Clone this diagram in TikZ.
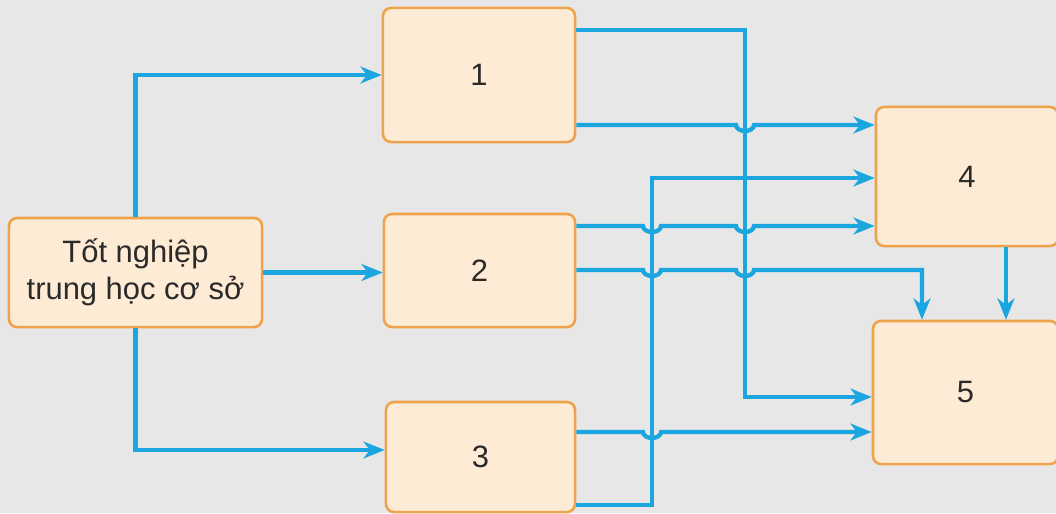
\documentclass[tikz,border=0pt]{standalone}
\usepackage{fontspec}
\setmainfont{Liberation Sans}
\usetikzlibrary{arrows.meta}

\definecolor{bgc}{HTML}{E7E7E7}
\definecolor{boxfill}{HTML}{FDEBD5}
\definecolor{boxline}{HTML}{EFA24C}
\definecolor{flowc}{HTML}{1BA6E0}
\definecolor{txtc}{HTML}{2B2A29}

\tikzset{
	box/.style={draw=boxline, fill=boxfill, line width=1.8pt, rounded corners=0.2cm,
		text=txtc, font=\fontsize{22}{26.5}\selectfont, align=center},
	flow/.style={draw=flowc, line width=3.1pt,
		-{Stealth[length=5.3mm,width=4.2mm,inset=1.6mm]}},
}

\begin{document}
\begin{tikzpicture}[x=0.025cm, y=-0.025cm]
		\fill [bgc] (0,0) rectangle (1056,513);
		\useasboundingbox (0,0) rectangle (1056,513);
		\node[box, minimum width=6.325cm, minimum height=2.725cm] (start) at (135.5,272.5) {Tốt nghiệp\\trung học cơ sở};
		\node[box, minimum width=4.8cm, minimum height=3.35cm] (n1) at (479,75) {1};
		\node[box, minimum width=4.775cm, minimum height=2.825cm] (n2) at (479.5,270.5) {2};
		\node[box, minimum width=4.725cm, minimum height=2.75cm] (n3) at (480.5,457) {3};
		\node[box, minimum width=4.55cm, minimum height=3.475cm] (n4) at (967,176.5) {4};
		\node[box, minimum width=4.625cm, minimum height=3.575cm] (n5) at (965.5,392.5) {5};
		% from the left box
		\draw [flow] (start.north) |- (n1.west);
		\draw [flow, line width=3.6pt] (start.east) -- (start.east -| n2.west);
		\draw [flow] (start.south) |- (n3.west |- 0,450);
		% lanes at x=745 and x=652, small dips where lines cross
		\draw [flow] (n1.east |- 0,30) -| (745,397) -- (n5.west |- 0,397);
		\draw [flow] (n1.east |- 0,125) -- (736,125) arc[start angle=180, end angle=0, x radius=9, y radius=6] -- (n4.west |- 0,125);
		\draw [flow] (n3.east |- 0,505) -| (652,178) -- (n4.west |- 0,178);
		\draw [flow] (n2.east |- 0,226) -- (643,226) arc[start angle=180, end angle=0, x radius=9, y radius=6]
			-- (736,226) arc[start angle=180, end angle=0, x radius=9, y radius=6] -- (n4.west |- 0,226);
		\draw [flow] (n2.east |- 0,270) -- (643,270) arc[start angle=180, end angle=0, x radius=9, y radius=6]
			-- (736,270) arc[start angle=180, end angle=0, x radius=9, y radius=6] -| (n5.north -| 922,0);
		\draw [flow] (n3.east |- 0,432) -- (643,432) arc[start angle=180, end angle=0, x radius=9, y radius=6] -- (n5.west |- 0,432);
		\draw [flow] (n4.south -| 1006,0) -- (n5.north -| 1006,0);
\end{tikzpicture}
\end{document}
